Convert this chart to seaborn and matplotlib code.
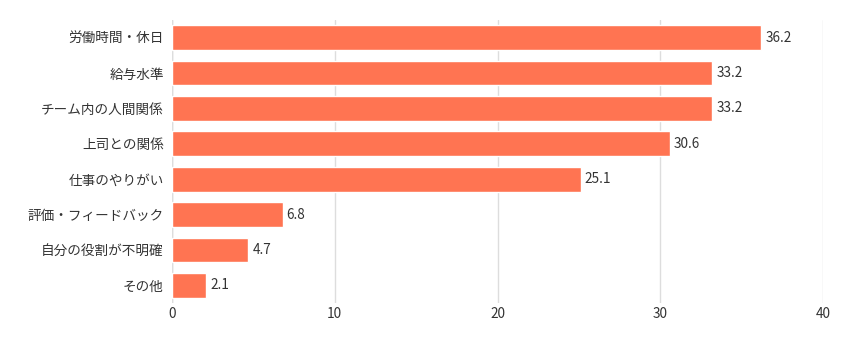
import matplotlib
matplotlib.use("Agg")
import matplotlib.pyplot as plt
import seaborn as sns
import pandas as pd

categories = ["労働時間・休日", "給与水準", "チーム内の人間関係", "上司との関係",
              "仕事のやりがい", "評価・フィードバック", "自分の役割が不明確", "その他"]
values = [36.2, 33.2, 33.2, 30.6, 25.1, 6.8, 4.7, 2.1]
xticks = [0, 10, 20, 30, 40]

sns.set_theme(style="white")
plt.rcParams['font.family'] = ['Noto Sans CJK JP', 'DejaVu Sans']

df = pd.DataFrame({"category": categories, "value": values})

fig = plt.figure(figsize=(8.58, 3.42), dpi=100)
ax = fig.add_axes([172/858, 1-303/342, (823-172)/858, (303-20)/342])

sns.barplot(data=df, y="category", x="value", color="#FF7452", saturation=1,
            width=0.7, ax=ax, orient="h")

ax.set_xlim(0, 40)
ax.set_xticks(xticks)
ax.set_xticklabels([str(t) for t in xticks])
ax.xaxis.grid(True, color="#dddddd", linewidth=1)
ax.set_axisbelow(True)
for s in ax.spines.values():
    s.set_visible(False)
ax.axvline(0, color="#cccccc", linewidth=1, zorder=0.5)
ax.set_xlabel("")
ax.set_ylabel("")
ax.tick_params(axis="both", length=0, labelsize=9.8, colors="#333333")
ax.tick_params(axis="y", pad=6)
ax.tick_params(axis="x", pad=3)

for i, v in enumerate(values):
    ax.text(v + 0.25, i, f"{v}", va="center", ha="left", fontsize=9.8, color="#333333")

fig.savefig("out.png", dpi=100)
